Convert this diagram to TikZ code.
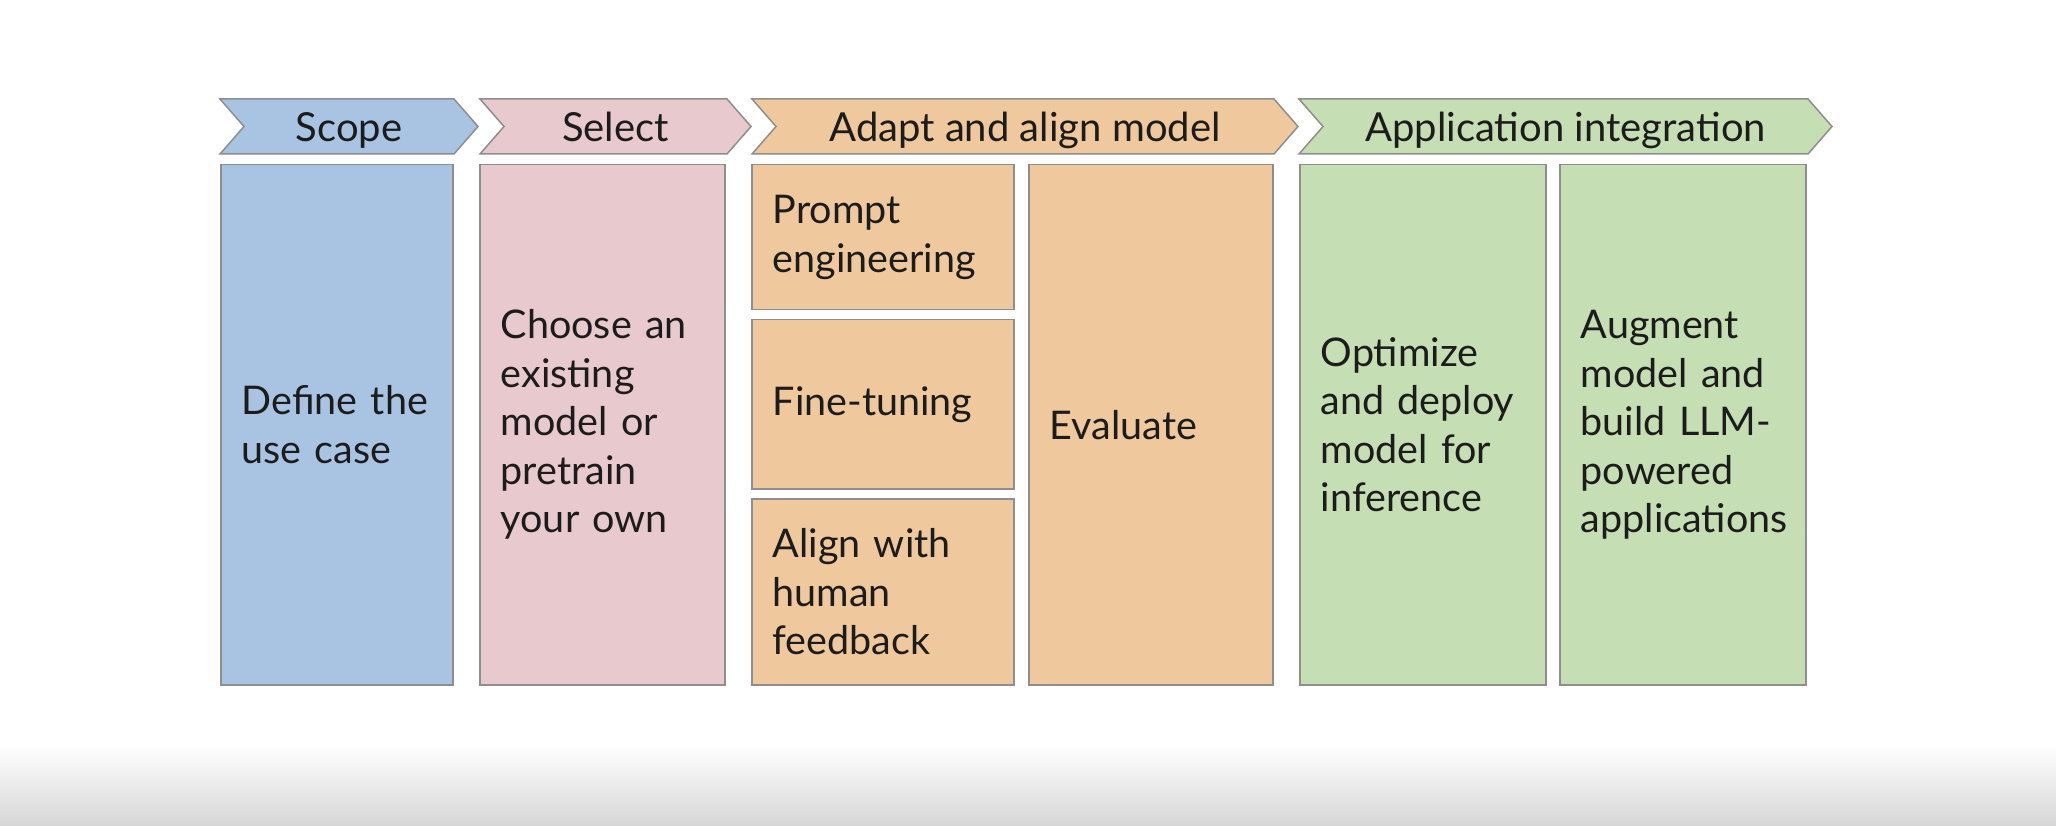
\documentclass[tikz,border=0pt]{standalone}
\usepackage{fontspec}
\setmainfont{Lato}
\definecolor{cblue}{HTML}{A9C4E2}
\definecolor{cpink}{HTML}{E8C9CD}
\definecolor{corange}{HTML}{EFC89E}
\definecolor{cgreen}{HTML}{C5DEB3}
\definecolor{cborder}{HTML}{8E8E8E}
\definecolor{ctext}{HTML}{1C1C1C}
\definecolor{cbot}{HTML}{D6D6D6}
\tikzset{
  hdrtext/.style={text=ctext, font=\fontsize{40}{48}\selectfont, inner sep=0pt, anchor=base},
  chev/.style={draw=cborder, line width=1.5pt, line join=miter},
  card/.style={draw=cborder, line width=1.5pt, rectangle, anchor=north west, inner xsep=21pt, inner ysep=0pt,
     align=left, text=ctext, font=\fontsize{39.5}{48.5}\selectfont},
}
\newcommand{\chevron}[5]{%
  % #1 left, #2 tip, #3 colour, #4 name, #5 text
  \path[chev, fill=#3] (#1,99) -- (#2-24,99) -- (#2,126.5) -- (#2-24,154) -- (#1,154) -- (#1+24,126.5) -- cycle;
  \node[hdrtext] (#4) at ({(#1+#2)/2},142) {#5};
}
\begin{document}
\begin{tikzpicture}[x=1pt,y=-1pt]
\path[use as bounding box, fill=white] (0,0) rectangle (2056,826);
\shade[top color=white, bottom color=cbot] (0,745) rectangle (2056,826);

\chevron{220}{478}{cblue}{hscope}{Scope}
\chevron{480}{751}{cpink}{hselect}{Select}
\chevron{752}{1298}{corange}{hadapt}{Adapt and align model}
\chevron{1299}{1832}{cgreen}{happ}{Application integration}

\node[card, fill=cblue, text width=232pt-42pt, minimum width=232pt, minimum height=520pt] (define) at (220,164) {Define the\\use case};
\node[card, fill=cpink, text width=245pt-42pt, minimum width=245pt, minimum height=520pt] (choose) at (479,164) {Choose an\\existing\\model or\\pretrain\\your own};
\node[card, fill=corange, text width=262pt-42pt, minimum width=262pt, minimum height=145pt] (prompt) at (751,164) {Prompt\\engineering};
\node[card, fill=corange, text width=262pt-42pt, minimum width=262pt, minimum height=169pt] (finetune) at (751,319) {Fine-tuning};
\node[card, fill=corange, text width=262pt-42pt, minimum width=262pt, minimum height=186pt] (alignhf) at (751,498) {Align with\\human\\feedback};
\node[card, fill=corange, text width=244pt-42pt, minimum width=244pt, minimum height=520pt] (evaluate) at (1028,164) {Evaluate};
\node[card, fill=cgreen, text width=246pt-42pt, minimum width=246pt, minimum height=520pt] (optimize) at (1299,164) {Optimize\\and deploy\\model for\\inference};
\node[card, fill=cgreen, text width=246pt-42pt, minimum width=246pt, minimum height=520pt] (augment) at (1559,164) {Augment\\model and\\build LLM-\\powered\\applications};
\end{tikzpicture}
\end{document}
